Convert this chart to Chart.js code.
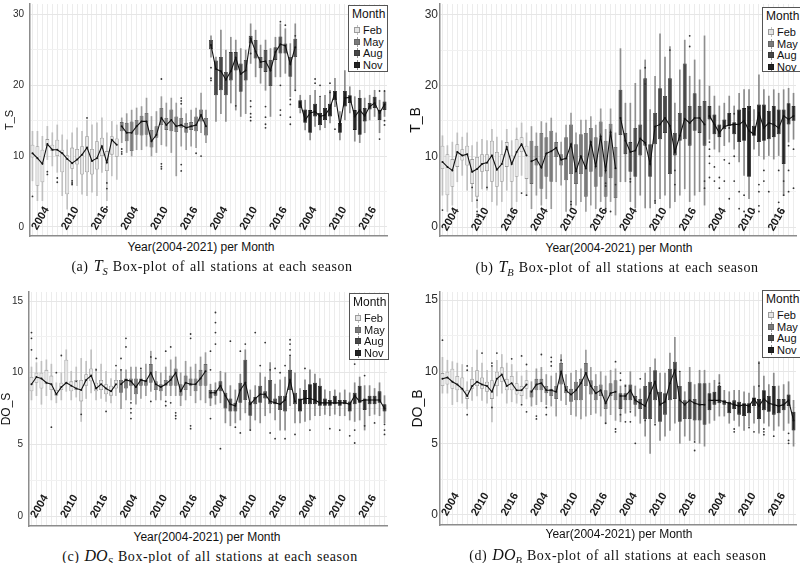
<!DOCTYPE html>
<html>
<head>
<meta charset="utf-8">
<script src="https://cdn.jsdelivr.net/npm/chart.js@4.4.0/dist/chart.umd.min.js"></script>
<style>
  body { margin: 0; background: #fff; width: 800px; height: 563px; position: relative; overflow: hidden; font-family: "Liberation Sans", Arial, sans-serif; }
  canvas { position: absolute; }
  .xt { position: absolute; font-size: 12px; color: #111; white-space: nowrap; transform: translateX(-50%); }
  .cap { position: absolute; font-family: "Liberation Serif", "DejaVu Serif", serif; font-size: 14px; color: #111; white-space: nowrap; transform: translateX(-50%); letter-spacing: 0.55px; word-spacing: 1px; }
  .cap i { font-size: 16px; letter-spacing: 0; }
  .cap sub { font-size: 10.5px; }
  .lg { position: absolute; background: #fff; border: 1px solid #555; box-sizing: border-box; overflow: hidden; }
  .lg .t { position: absolute; left: 3px; top: 1px; font-size: 12px; color: #111; }
  .lg .r { position: absolute; left: 14px; font-size: 11px; color: #111; line-height: 12px; }
  .lg .k { position: absolute; left: -9px; top: 1px; width: 6px; height: 10px; }
  .lg .k::before { content: ""; position: absolute; left: 2.5px; top: 0; width: 1px; height: 10px; background: var(--w); }
  .lg .k::after { content: ""; position: absolute; left: 0; top: 2px; width: 6px; height: 6px; box-sizing: border-box; background: var(--f); border: 1px solid var(--b); }
</style>
</head>
<body>
<script>
// 类别
const years = [2004,2005,2006,2007,2008,2009,2010,2011,2012,2013,2014,2015,2016,2017,2018,2019,2020,2021];
const months = ['Feb','May','Aug','Nov'];
const yearTicks = [2004, 2010, 2016];

// 颜色（按月份）
const boxFill = ['#e4e4e4','#7a7a7a','#474747','#232323'];
const boxLine = ['#9c9c9c','#666666','#3a3a3a','#1a1a1a'];
const whiskerColor = ['#c0c0c0','#9c9c9c','#8e8e8e','#8a8a8a'];

// (a) T_S
const tsLow  = [6.5,3.7,3.7,9.5,8.6,7.7,4.4,2.5,5.8,5.8,4.6,4.4,4.9,4.4,7.7,3.7,7.2,6.7,
  11.9,10.5,10.0,10.9,10.9,11.4,10.0,10.5,11.6,11.4,10.5,7.2,11.4,10.9,11.4,11.2,13.3,11.9,
  24.0,14.9,16.0,14.9,17.5,16.5,15.6,16.0,23.1,21.2,20.3,19.3,15.6,21.2,21.2,21.7,18.4,19.3,
  16.1,13.7,12.3,14.2,13.7,14.0,14.7,17.0,12.3,15.1,16.1,12.1,11.9,13.3,15.1,15.6,13.3,15.6];
const tsQ1   = [9.8,5.8,6.3,11.4,10.7,10.0,7.7,4.6,8.2,8.8,7.4,7.7,7.4,8.1,10.0,7.9,10.2,9.9,
  13.5,12.1,10.7,13.0,12.9,13.0,11.2,12.6,14.4,13.7,13.5,13.4,14.0,13.3,13.7,13.5,14.9,12.9,
  25.1,18.6,19.3,18.6,20.7,22.1,19.1,20.7,25.9,23.8,22.4,21.9,19.9,23.6,24.5,24.5,21.2,24.0,
  16.8,14.7,13.3,15.6,14.4,15.1,15.6,17.9,13.3,17.0,17.5,13.7,13.0,14.9,16.6,16.8,15.1,16.5];
const tsMed  = [10.4,9.7,8.9,11.7,10.9,10.9,10.4,9.6,9.0,9.5,10.2,11.2,9.3,9.7,11.4,9.1,12.3,11.6,
  14.2,13.3,13.3,14.2,14.9,14.9,12.1,13.0,15.4,14.4,15.1,14.2,14.4,14.0,14.2,14.4,15.8,14.2,
  25.7,22.3,22.0,20.8,22.0,23.9,21.6,22.1,26.6,24.8,23.3,23.4,22.1,24.7,25.8,25.6,23.0,25.4,
  17.5,15.1,16.1,16.3,15.6,15.8,16.8,18.9,14.4,18.2,18.3,15.6,16.5,15.7,17.0,17.5,16.1,17.3];
const tsQ3   = [11.6,11.4,10.9,12.4,11.6,12.3,10.9,10.1,11.2,11.0,11.4,12.8,11.0,12.1,12.6,10.7,12.8,12.5,
  14.8,14.7,14.9,15.1,15.7,16.1,13.7,14.2,16.8,15.4,16.6,15.6,15.4,14.7,14.8,15.6,16.6,15.4,
  26.4,23.5,24.0,21.9,24.7,24.7,23.1,23.6,27.0,26.4,24.0,25.0,23.6,25.4,26.9,25.9,24.0,26.6,
  17.9,16.6,16.5,17.4,16.1,16.8,17.4,19.2,14.7,19.2,18.6,16.5,18.2,16.8,17.5,18.4,16.5,17.7];
const tsHigh = [13.5,13.5,12.8,14.2,13.3,14.4,13.0,12.3,13.3,14.0,13.5,15.1,14.4,14.7,15.4,13.3,14.9,14.4,
  15.4,16.0,16.5,16.8,17.0,18.2,15.6,16.3,18.4,17.5,18.2,17.5,16.8,16.0,16.5,16.8,18.9,16.5,
  27.0,24.0,27.8,25.0,26.8,26.4,25.2,25.0,28.7,27.8,25.7,26.4,25.2,26.8,28.7,28.0,25.9,28.7,
  18.6,17.9,18.6,19.3,18.2,18.6,19.3,21.0,16.3,22.1,19.8,18.4,19.3,18.2,18.6,19.3,17.9,19.1];
const tsOut = [[0,4.3],[3,7.8],[3,7.4],[5,6.3],[5,6.9],[8,6.0],[8,6.2],[8,6.5],[11,15.4],[15,6.2],[15,5.4],[15,2.8],
  [18,11.0],[18,10.6],[18,10.3],[26,20.9],[26,8.9],[26,8.5],[26,8.2],[30,18.2],[30,17.8],[30,17.4],[30,8.8],[30,7.9],[33,10.4],[34,10.0],
  [36,22.5],[36,21.0],[36,20.7],[41,17.1],[44,24.5],[44,17.8],[44,17.0],[44,16.0],[44,15.5],[44,15.0],[47,17.0],[47,15.5],[47,14.5],[47,14.0],
  [50,29.0],[50,20.0],[50,16.5],[50,15.8],[51,28.5],[52,18.0],[52,17.3],[52,15.5],[52,14.5],[53,27.0],[53,19.3],
  [57,20.9],[57,20.3],[58,20.0],[58,18.4],[60,20.3],[60,19.0],[61,13.8],[70,19.2],[71,19.2],[71,15.0],[71,14.4],[70,12.4]];

// (b) T_B
const tbLow  = [4.5,2.2,3.1,6.4,7.3,5.2,3.6,2.7,5.4,5.2,3.6,3.1,3.6,5.2,0.8,3.6,7.3,4.5,
  2.6,4.5,3.1,4.0,2.6,6.4,5.9,2.2,2.6,3.1,3.6,2.2,3.1,2.6,3.6,2.2,3.6,1.7,
  6.4,6.4,3.6,2.7,4.5,2.7,2.7,3.6,4.0,4.5,2.7,3.6,4.5,5.4,3.6,4.5,5.0,3.1,
  12.4,11.0,10.6,11.5,12.0,11.0,9.2,7.3,4.0,11.0,10.1,9.6,10.1,9.6,10.1,4.5,12.0,12.4];
const tbQ1   = [8.2,4.5,5.7,8.5,9.4,8.7,6.1,4.3,7.8,7.9,6.4,5.7,6.4,8.5,6.4,7.1,10.6,6.8,
  6.1,8.7,5.4,7.1,6.4,9.9,8.7,6.6,7.5,6.1,7.5,4.3,7.8,5.7,7.1,4.3,6.9,4.1,
  13.0,10.3,7.8,7.1,10.1,11.5,7.1,11.7,12.4,13.3,7.5,10.1,12.2,12.4,11.5,13.6,13.3,11.5,
  15.2,13.1,12.7,13.8,14.3,13.1,12.0,12.2,7.1,12.9,12.0,12.2,12.4,12.7,13.1,8.9,14.5,15.0];
const tbMed  = [9.2,8.5,8.0,10.6,10.1,10.3,7.8,8.2,8.9,9.1,10.1,8.1,8.9,11.3,8.9,10.6,11.7,10.1,
  9.3,9.6,8.4,10.4,10.7,11.2,9.5,9.7,11.7,7.9,10.0,8.3,12.0,8.6,12.8,8.0,13.4,8.3,
  15.4,12.2,10.6,10.8,12.5,11.9,8.9,14.2,14.5,15.4,14.3,10.6,12.9,15.3,14.7,15.4,15.4,14.5,
  15.7,14.5,13.3,14.2,14.4,14.5,14.5,15.0,13.6,13.1,16.1,14.0,14.7,14.5,14.0,15.7,15.2,15.7];
const tbQ3   = [11.5,10.3,9.6,11.7,11.0,11.5,9.6,9.9,10.3,10.3,12.2,10.6,10.3,12.0,10.1,12.4,12.7,11.5,
  12.2,11.5,13.3,12.7,13.6,12.0,10.3,12.7,14.5,11.7,13.1,13.3,14.0,12.7,14.9,12.2,14.6,11.3,
  19.4,13.3,12.0,14.0,14.5,21.0,11.7,16.1,19.6,18.5,21.0,13.3,16.1,23.1,17.1,18.9,17.1,17.8,
  17.1,15.9,14.5,15.2,16.1,14.8,16.6,16.8,17.1,14.3,17.3,17.3,16.4,17.1,16.6,16.6,17.5,17.1];
const tbHigh = [12.9,11.5,12.0,13.3,12.7,13.3,11.5,12.0,12.4,12.2,13.8,12.7,12.2,13.8,12.2,14.0,14.7,13.3,
  14.2,13.3,14.9,14.7,15.4,13.3,12.0,14.4,16.1,13.3,15.1,15.1,15.6,14.4,16.7,13.8,16.7,13.3,
  25.2,17.5,17.5,20.3,22.2,23.6,16.6,21.3,27.3,24.0,25.5,17.5,22.2,26.4,21.3,23.6,20.8,27.0,
  19.9,18.5,17.1,17.5,18.5,17.1,18.9,19.4,19.4,16.6,21.5,19.4,18.5,19.4,18.9,19.4,19.6,18.9];
const tbOut = [[0,2.4],[6,5.6],[7,3.8],[7,1.8],[7,2.2],[7,1.5],[9,5.6],[16,4.8],[17,4.5],[26,3.6],[26,3.2],[33,6.2],[33,5.8],[33,2.6],[34,2.2],[35,6.0],
  [38,6.8],[38,6.4],[41,22.5],[41,20.2],[43,3.7],[43,3.4],[46,25.0],[47,6.0],[47,8.0],[50,27.0],[50,25.5],[53,6.5],[53,5.5],
  [54,12.0],[54,11.0],[54,10.0],[54,9.0],[54,7.0],[55,8.5],[55,6.5],[56,7.0],[56,5.5],[57,9.5],[57,6.5],[58,14.0],[58,9.0],[58,4.0],
  [59,16.0],[59,10.0],[59,6.5],[60,5.0],[60,2.6],[61,4.5],[61,2.2],[62,16.5],[62,14.0],[63,2.5],[64,6.0],[64,5.0],[64,3.0],[64,2.2],
  [65,8.0],[65,6.5],[66,5.0],[67,14.0],[68,8.0],[68,3.5],[69,6.5],[69,4.5],[69,2.2],[70,11.5],[70,8.0],[70,5.0],[71,11.0],[71,5.5]];

// (c) DO_S
const dosLow  = [8.1,8.4,7.8,8.4,8.1,7.9,8.1,8.7,8.1,8.3,6.6,8.2,8.6,8.1,8.2,8.0,7.9,8.4,
  7.5,8.1,8.1,7.8,8.2,8.4,8.7,8.1,8.1,8.4,8.4,8.4,7.7,8.1,8.4,7.9,8.1,7.9,
  7.7,7.8,7.9,6.5,6.3,6.5,6.7,7.2,6.0,6.7,6.5,7.0,7.2,6.7,6.0,6.0,7.7,6.5,
  6.5,6.6,6.7,7.0,7.0,7.1,7.0,7.1,7.0,7.0,6.7,6.6,6.7,6.0,7.0,7.1,7.0,6.5];
const dosQ1   = [8.7,9.3,8.9,9.2,8.8,8.4,8.8,9.2,8.7,8.8,8.0,9.1,9.4,8.7,8.8,8.5,8.4,8.9,
  8.6,8.9,9.1,8.5,9.1,9.1,9.3,8.8,8.7,9.1,9.1,9.1,8.4,8.8,9.1,8.7,9.1,9.1,
  8.2,8.4,8.7,7.5,7.3,7.3,7.9,8.1,7.0,7.8,7.9,8.2,7.8,7.8,7.4,7.3,8.8,7.8,
  7.3,7.8,7.8,7.8,7.7,7.7,7.7,7.8,7.7,7.8,7.3,7.8,7.9,7.4,7.8,7.8,7.9,7.3];
const dosMed  = [9.2,9.7,9.6,9.3,9.2,8.5,9.0,9.3,9.1,8.9,8.8,9.5,9.8,8.9,9.2,8.9,8.7,9.2,
  9.2,9.5,9.4,9.0,9.5,9.4,10.0,9.2,9.0,9.2,9.5,10.0,8.7,9.3,9.2,9.2,9.6,10.1,
  8.6,8.6,9.1,8.4,7.8,7.7,8.8,9.3,7.8,8.2,8.5,8.5,8.0,7.9,7.8,8.1,9.5,8.0,
  8.1,8.2,8.2,8.1,7.9,7.9,7.9,7.9,7.9,7.9,7.8,8.4,8.0,8.1,8.1,8.1,8.1,7.5];
const dosQ3   = [9.7,10.0,10.0,10.2,9.8,8.8,9.3,10.9,9.4,9.5,9.5,9.9,10.3,9.3,9.5,9.2,9.1,9.5,
  9.5,9.6,9.6,9.6,9.6,9.5,10.6,9.4,9.2,9.5,9.8,10.3,9.2,9.8,9.6,9.6,10.2,10.6,
  8.8,8.8,9.4,8.6,8.2,7.9,9.3,10.9,8.0,8.3,9.1,8.7,9.5,8.2,8.4,8.4,10.2,8.6,
  8.2,8.8,9.2,9.3,9.1,8.2,8.1,8.4,8.1,8.1,8.0,8.6,9.1,8.2,8.4,8.4,8.7,7.8];
const dosHigh = [10.4,10.7,10.8,10.9,10.6,9.3,10.0,11.6,10.1,10.4,11.0,10.8,11.6,10.3,10.6,10.1,9.6,10.2,
  10.2,10.2,10.4,10.4,10.2,10.6,11.5,10.1,10.0,10.4,10.9,11.1,10.0,10.8,10.4,10.6,11.1,11.4,
  9.2,9.3,10.1,10.0,9.1,8.8,9.9,11.6,8.8,9.1,10.0,9.7,10.7,9.2,9.5,9.7,11.1,10.0,
  8.9,9.5,10.2,9.9,9.6,8.8,8.7,8.8,8.6,8.8,8.6,9.3,9.7,9.1,9.1,8.9,9.3,8.4];
const dosOut = [[0,12.8],[0,12.4],[0,11.6],[1,11.0],[4,6.2],[5,10.0],[6,11.2],[9,9.4],[10,7.1],[13,10.2],[15,7.3],[17,10.5],
  [18,10.2],[18,11.0],[19,12.4],[19,11.8],[20,7.9],[20,7.5],[20,7.2],[20,6.8],[22,10.3],[24,11.1],[24,8.0],[25,11.0],[27,11.5],[27,8.0],[27,7.7],
  [28,11.8],[28,7.9],[29,7.2],[29,7.0],[29,6.8],[32,12.7],[32,12.4],[32,6.3],[32,6.1],
  [36,11.5],[36,10.2],[36,6.8],[37,14.2],[37,13.5],[37,12.8],[37,12.0],[38,4.7],[40,12.2],[41,6.2],[42,11.5],[42,5.8],[43,12.0],[44,6.0],
  [45,12.8],[46,10.5],[47,12.1],[48,10.2],[48,5.8],[49,10.3],[49,5.4],[50,10.0],[51,10.5],[51,5.4],[52,12.3],[52,12.0],[52,11.6],[52,11.2],[53,5.7],
  [55,10.3],[56,6.0],[60,6.1],[62,6.0],[64,5.6],[65,10.6],[65,6.0],[65,5.1],[67,9.8],[67,6.3],[69,6.5],[71,6.4],[71,6.0],[71,5.7]];

// (d) DO_B
const dobLow  = [8.5,8.5,7.7,7.9,7.8,7.4,8.0,8.3,8.0,7.8,6.5,8.3,8.5,7.8,7.9,7.8,7.8,8.1,
  7.6,7.7,7.9,7.7,7.6,6.9,8.0,7.7,7.0,6.9,6.7,6.9,7.0,7.1,6.9,6.4,7.0,6.6,
  6.5,7.1,7.3,6.9,6.4,5.5,4.3,6.4,5.2,5.5,5.9,6.4,5.0,5.5,5.2,5.2,5.0,4.8,
  6.4,6.6,6.9,6.9,6.4,6.6,6.2,5.9,6.2,6.4,5.7,6.4,6.2,5.9,6.2,5.9,6.4,4.8];
const dobQ1   = [9.0,9.1,8.8,8.7,8.7,8.1,8.8,9.0,8.8,8.6,8.1,9.0,9.3,8.7,8.7,8.4,8.3,8.8,
  8.2,8.7,8.7,8.5,8.3,8.1,9.1,8.5,7.9,8.0,8.0,9.0,8.4,8.0,8.3,7.4,8.3,8.0,
  7.4,8.0,8.0,7.7,7.4,6.7,6.7,8.0,6.5,7.0,8.0,8.1,6.5,6.7,6.7,6.6,6.6,6.3,
  7.3,7.7,7.8,7.7,7.1,7.4,7.0,6.9,7.1,7.6,6.7,7.3,7.2,7.0,7.1,7.3,7.6,5.9];
const dobMed  = [9.5,9.6,9.3,9.1,8.8,8.3,9.0,9.3,9.1,9.0,8.6,9.5,9.8,9.0,9.2,8.7,8.7,9.1,
  8.6,9.1,9.2,8.7,8.7,8.6,10.0,8.7,8.4,8.7,9.2,9.9,9.0,8.5,8.7,7.8,8.5,8.6,
  8.3,8.3,8.7,8.0,7.8,7.6,8.5,9.3,7.7,7.9,9.2,10.1,8.0,7.7,8.0,7.8,7.7,7.7,
  8.0,8.0,8.0,7.9,7.8,7.7,7.6,7.7,7.6,8.1,7.6,8.1,7.8,7.7,7.6,7.7,8.0,6.6];
const dobQ3   = [9.9,10.0,10.2,9.7,9.6,8.7,9.5,10.1,9.6,9.3,9.4,10.0,10.3,9.5,9.7,9.2,9.0,9.4,
  8.7,9.5,9.5,9.0,8.8,9.0,10.6,9.0,8.8,9.3,9.5,10.6,9.4,9.0,9.1,8.7,9.2,9.4,
  8.5,8.5,9.1,8.3,8.1,9.0,9.3,10.1,8.6,8.5,10.2,10.7,9.0,8.0,9.3,8.1,9.2,9.2,
  8.5,8.6,9.0,8.0,7.9,8.0,7.9,7.8,7.8,8.2,8.1,8.7,8.3,9.0,8.1,8.1,8.4,7.2];
const dobHigh = [11.0,10.8,10.7,10.6,10.5,9.3,10.3,11.5,10.6,10.1,10.3,10.8,11.2,10.6,10.5,10.0,9.7,10.1,
  9.3,10.2,10.3,9.8,9.7,9.9,11.2,9.8,9.9,10.1,10.2,11.5,10.3,9.8,10.0,9.7,10.1,10.2,
  9.0,9.1,10.0,9.0,8.8,9.9,10.3,10.9,9.9,9.9,11.3,12.4,9.9,8.6,10.3,9.1,10.1,10.1,
  9.2,9.4,9.8,8.7,8.6,8.7,8.7,8.6,8.5,9.0,10.7,9.7,9.1,9.9,9.0,9.1,9.3,8.0];
const dobOut = [[0,12.2],[5,10.4],[5,10.1],[5,7.0],[8,11.3],[10,10.6],[10,10.4],[10,7.5],[11,11.3],[14,10.9],[16,11.1],[16,7.7],[17,7.2],[17,10.5],
  [19,6.9],[19,6.7],[20,11.2],[21,7.5],[21,7.0],[22,11.0],[22,10.7],[22,10.4],[24,10.8],[33,6.4],[35,10.7],[35,6.0],[35,5.8],
  [36,9.9],[36,9.4],[36,7.0],[37,9.0],[37,6.5],[38,7.2],[38,6.5],[39,5.0],[40,9.5],[41,6.6],[43,6.3],[48,10.0],[51,5.1],[51,4.5],
  [56,9.2],[56,9.0],[59,6.0],[59,5.8],[62,6.1],[63,5.8],[64,10.6],[64,9.0],[65,6.0],[65,5.8],[65,5.6],[67,5.5],[70,5.7],[70,5.2],[70,5.0],[71,7.0]];

// 坐标轴刻度
const tTicks = [0,5,10,15,20,25,30];
const doTicks = [0,2.5,5,7.5,10,12.5,15];

const labels = months.flatMap(m => years.map(y => m + ' ' + y));
const monthOf = i => Math.floor(i / years.length);

// 面板布局
const panels = [
  { left:0, top:0, w:400, h:240, aL:30, aR:387, aT:3, aB:237, yMin:-1.3, yMax:31.5, ticks:tTicks, major:10, yTitle:'T_S', tick:10, ttl:11, ttlPad:3, tPad:6, xlDx:2, xlDy:-7,
    low:tsLow, q1:tsQ1, med:tsMed, q3:tsQ3, high:tsHigh, out:tsOut },
  { left:400, top:0, w:400, h:240, aL:440, aR:799, aT:3, aB:238, yMin:-1.26, yMax:31.5, ticks:tTicks, major:10, yTitle:'T_B', tick:12, ttl:14, ttlPad:8, tPad:2, xlDx:2, xlDy:-6,
    low:tbLow, q1:tbQ1, med:tbMed, q3:tbQ3, high:tbHigh, out:tbOut },
  { left:0, top:280, w:400, h:250, aL:29, aR:387, aT:292, aB:527, yMin:-0.69, yMax:15.63, ticks:doTicks, major:5, yTitle:'DO_S', tick:10, ttl:12, ttlPad:-1, tPad:6, xlDx:2, xlDy:-9,
    low:dosLow, q1:dosQ1, med:dosMed, q3:dosQ3, high:dosHigh, out:dosOut },
  { left:400, top:280, w:400, h:250, aL:440, aR:799, aT:292, aB:525, yMin:-0.7, yMax:15.56, ticks:doTicks, major:5, yTitle:'DO_B', tick:12, ttl:14, ttlPad:10, tPad:2, xlDx:2, xlDy:-10,
    low:dobLow, q1:dobQ1, med:dobMed, q3:dobQ3, high:dobHigh, out:dobOut }
];

const FONT = '"Liberation Sans", Arial, sans-serif';

function buildPanel(p) {
  const canvas = document.createElement('canvas');
  canvas.width = p.w; canvas.height = p.h;
  canvas.style.left = p.left + 'px'; canvas.style.top = p.top + 'px';
  document.body.appendChild(canvas);

  // 中位数折线：每个月份一段
  const trend = months.map((m, k) => ({
    type: 'line',
    data: p.med.map((v, i) => monthOf(i) === k ? v : null),
    borderColor: '#111', borderWidth: 1.1,
    pointRadius: 1, pointBackgroundColor: '#111', pointBorderWidth: 0,
    spanGaps: false, order: 0
  }));

  const yearLabelPlugin = {
    id: 'yearLabels',
    afterDraw(chart) {
      const ctx = chart.ctx, xs = chart.scales.x, bottom = chart.chartArea.bottom;
      ctx.save();
      ctx.font = 'bold 11px ' + FONT;
      ctx.fillStyle = '#1a1a1a';
      labels.forEach((l, i) => {
        const yr = years[i % years.length];
        if (!yearTicks.includes(yr)) return;
        ctx.save();
        ctx.translate(xs.getPixelForValue(i) + p.xlDx, bottom + p.xlDy);
        ctx.rotate(-Math.PI / 3);
        ctx.textAlign = 'left';
        ctx.textBaseline = 'middle';
        ctx.fillText(String(yr), 0, 0);
        ctx.restore();
      });
      ctx.restore();
    }
  };

  new Chart(canvas, {
    type: 'bar',
    data: {
      labels: labels,
      datasets: [
        ...trend,
        {
          type: 'line', showLine: false, order: 1,
          data: p.out.map(o => ({ x: labels[o[0]], y: o[1] })),
          pointRadius: 0.9, pointBackgroundColor: '#333', pointBorderWidth: 0
        },
        {
          data: p.q1.map((v, i) => [v, p.q3[i]]),
          backgroundColor: labels.map((l, i) => boxFill[monthOf(i)]),
          borderColor: labels.map((l, i) => boxLine[monthOf(i)]),
          borderWidth: 0.8, borderSkipped: false,
          barPercentage: 0.8, categoryPercentage: 1, grouped: false, order: 2
        },
        {
          data: p.low.map((v, i) => [v, p.high[i]]),
          backgroundColor: labels.map((l, i) => whiskerColor[monthOf(i)]),
          barThickness: 1, grouped: false, order: 3
        }
      ]
    },
    options: {
      responsive: false, animation: false, events: [],
      layout: { padding: { top: p.aT - p.top, right: p.left + p.w - p.aR, bottom: p.top + p.h - p.aB, left: 0 } },
      plugins: { legend: { display: false }, tooltip: { enabled: false } },
      scales: {
        x: {
          type: 'category', offset: true,
          afterFit: s => { s.height = 0; s.paddingLeft = 0; s.paddingRight = 0; s.paddingTop = 0; s.paddingBottom = 0; },
          ticks: { display: false },
          grid: { offset: false, color: '#ececec', lineWidth: 1, drawTicks: false },
          border: { display: true, color: '#8c8c8c', width: 1.5 }
        },
        y: {
          min: p.yMin, max: p.yMax,
          afterFit: s => { s.width = p.aL - p.left; s.paddingTop = 0; s.paddingBottom = 0; s.paddingLeft = 0; s.paddingRight = 0; },
          afterBuildTicks: s => { s.ticks = p.ticks.map(v => ({ value: v })); },
          ticks: {
            padding: p.tPad, color: '#2b2b2b', font: { family: FONT, size: p.tick },
            callback: v => (v % p.major === 0 ? String(v) : '')
          },
          grid: {
            drawTicks: false,
            color: c => (c.tick && c.tick.value % p.major === 0 ? '#e6e6e6' : '#f1f1f1'),
            lineWidth: 1
          },
          border: { display: true, color: '#8c8c8c', width: 1.5 },
          title: { display: true, text: p.yTitle, color: '#111', padding: { top: p.ttlPad, bottom: 0 }, font: { family: FONT, size: p.ttl } }
        }
      }
    },
    plugins: [yearLabelPlugin]
  });
}

panels.forEach(buildPanel);

// 图例与文字
function addHtml(html) { document.body.insertAdjacentHTML('beforeend', html); }

const legendPos = [[348,5,40,67],[762,7,40,65],[349,293,40,67],[762,290,40,68]];
legendPos.forEach(([l, t, w, h]) => {
  let rows = months.map((m, k) =>
    `<div class="r" style="top:${18 + k * 11.7}px"><span class="k" style="--f:${boxFill[k]};--b:${boxLine[k]};--w:${whiskerColor[k]}"></span>${m}</div>`).join('');
  addHtml(`<div class="lg" style="left:${l}px;top:${t}px;width:${w}px;height:${h}px"><div class="t">Month</div>${rows}</div>`);
});

const xTitles = [[201,240],[619,241],[207,530],[619,527]];
xTitles.forEach(([x, y]) => addHtml(`<div class="xt" style="left:${x}px;top:${y}px">Year(2004-2021) per Month</div>`));

addHtml('<div class="cap" style="left:212px;top:257px">(a) <i>T<sub>S</sub></i> Box-plot of all stations at each season</div>');
addHtml('<div class="cap" style="left:617px;top:258px">(b) <i>T<sub>B</sub></i> Box-plot of all stations at each season</div>');
addHtml('<div class="cap" style="left:210px;top:547px">(c) <i>DO<sub>S</sub></i> Box-plot of all stations at each season</div>');
addHtml('<div class="cap" style="left:618px;top:546px">(d) <i>DO<sub>B</sub></i> Box-plot of all stations at each season</div>');
</script>
</body>
</html>
